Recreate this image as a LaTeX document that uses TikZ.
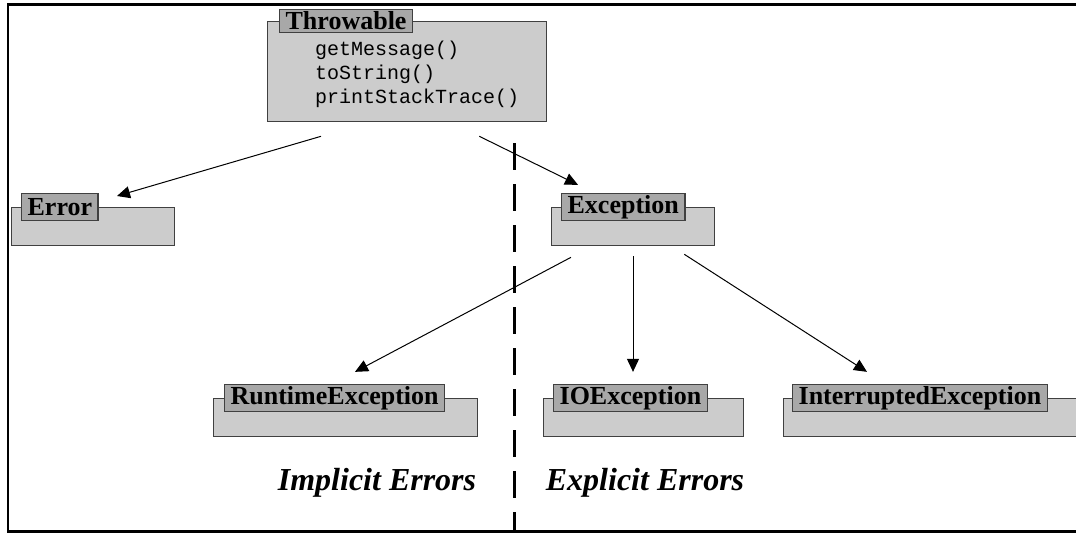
\documentclass[tikz,border=0pt]{standalone}
\usepackage{fontspec}
\setmainfont{Liberation Serif}
\setmonofont{Liberation Mono}
\usetikzlibrary{arrows.meta}

\definecolor{bodygray}{RGB}{204,204,204}
\definecolor{tabgray}{RGB}{168,168,168}
\definecolor{edgegray}{RGB}{64,64,64}

\begin{document}
\begin{tikzpicture}[
        x=1pt, y=-1pt,
        classbody/.style={draw=edgegray, fill=bodygray, line width=1.3pt, anchor=north west, inner sep=0pt},
        classtab/.style={draw=edgegray, fill=tabgray, line width=1.3pt, anchor=west, inner xsep=6pt, inner ysep=0pt,
            minimum height=27pt, font=\fontsize{26}{30}\selectfont\bfseries},
        arr/.style={-{Triangle[length=13pt,width=12pt]}, line width=1pt},
        side/.style={font=\fontsize{32}{38}\selectfont\bfseries\itshape, anchor=base}
    ]
    \useasboundingbox (0,0) rectangle (1076,533);

    % frame
    \draw[line width=2.5pt] (1076,4.5) -- (8,4.5) -- (8,531.5) -- (1076,531.5);

    % Throwable
    \node[classbody, minimum width=279pt, minimum height=100pt] (thrbody) at (267,21) {};
    \node[classtab, minimum height=23pt] (thr) at ([xshift=12pt]thrbody.north west) {Throwable};
    \node[anchor=west, inner sep=0pt, align=left, font=\fontsize{20}{24}\selectfont\ttfamily] (thrmeth)
        at ([xshift=48pt,yshift=-3pt]thrbody.west) {getMessage()\\toString()\\printStackTrace()};

    % Error and Exception
    \node[classbody, minimum width=163pt, minimum height=38pt] (errbody) at (11,207) {};
    \node[classtab] (err) at ([xshift=10pt]errbody.north west) {Error};
    \node[classbody, minimum width=163pt, minimum height=38pt] (excbody) at (551,207) {};
    \node[classtab] (exc) at ([xshift=10pt]excbody.north west) {Exception};

    % subclasses of Exception
    \node[classbody, minimum width=264pt, minimum height=38pt] (rtebody) at (213,398) {};
    \node[classtab] (rte) at ([xshift=11pt]rtebody.north west) {RuntimeException};
    \node[classbody, minimum width=200pt, minimum height=38pt] (ioebody) at (543,398) {};
    \node[classtab] (ioe) at ([xshift=10pt]ioebody.north west) {IOException};
    \node[classbody, minimum width=300pt, minimum height=38pt] (iexbody) at (783,398) {};
    \node[classtab] (iex) at ([xshift=9pt]iexbody.north west) {InterruptedException};

    % inheritance arrows
    \draw[arr] ([shift={(54,14)}]thrbody.south west) -- ([shift={(106,-11)}]errbody.north west);
    \draw[arr] ([shift={(-68,14)}]thrbody.south east) -- ([shift={(17,-8)}]exc.north west);
    \draw[arr] ([shift={(20,11)}]excbody.south west) -- ([shift={(131,-12)}]rte.north west);
    \draw[arr] ([shift={(82,10)}]excbody.south west) -- ([shift={(80,-12)}]ioe.north west);
    \draw[arr] ([shift={(-31,8)}]excbody.south east) -- ([shift={(75,-12)}]iex.north west);

    % divider
    \draw[line width=3pt, dash pattern=on 27pt off 14pt] (514,143) -- (514,533);
    \node[side] (impl) at (377,490) {Implicit Errors};
    \node[side] (expl) at (645,490) {Explicit Errors};
\end{tikzpicture}
\end{document}
